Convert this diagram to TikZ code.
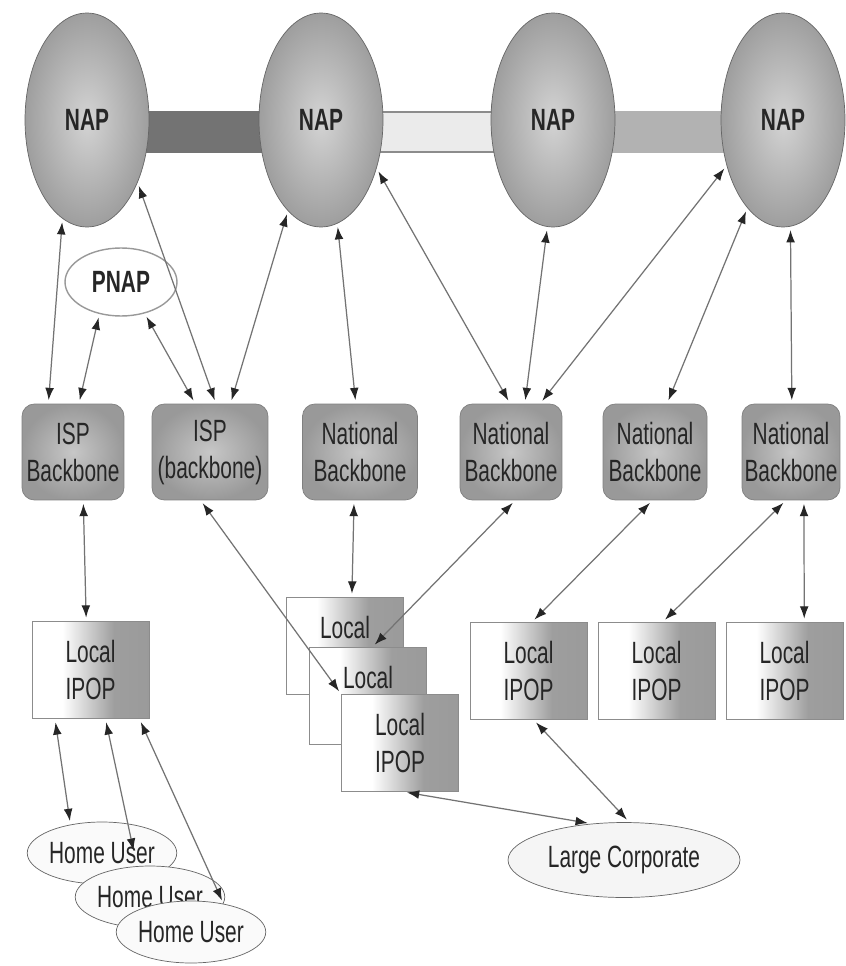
\documentclass[tikz,border=0pt]{standalone}
\usepackage{fontspec}
\setmainfont{Liberation Sans}[FakeStretch=0.68]
\usepackage{tikz}
\usetikzlibrary{shapes, arrows.meta, backgrounds, calc}

\pgfdeclarehorizontalshading{ipopshade}{100bp}{color(0bp)=(white); color(38bp)=(white); color(60bp)=(black!38); color(100bp)=(black!42)}

\begin{document}
\begin{tikzpicture}[x=0.02cm, y=-0.02cm,
		every node/.style={font=\fontsize{17.5}{21}\selectfont, text=black!85},
		nap/.style={ellipse, draw=black!60, inner color=black!17, outer color=black!38, minimum width=2.48cm, minimum height=4.28cm, inner sep=0pt, font=\fontsize{17.5}{21}\selectfont\bfseries},
		pnap/.style={ellipse, draw=black!40, line width=0.8pt, minimum width=2.24cm, minimum height=1.36cm, inner sep=0pt, font=\fontsize{17.5}{21}\selectfont\bfseries},
		backbone/.style={rectangle, rounded corners=7pt, draw=black!50, inner color=black!22, outer color=black!40, minimum height=1.92cm, inner sep=1pt, align=center},
		ipop/.style={rectangle, draw=black!45, shade, shading=ipopshade, minimum width=2.34cm, minimum height=1.94cm, align=center},
		user/.style={ellipse, draw=black!60, fill=black!2, minimum width=2.84cm, minimum height=1.24cm, inner sep=0pt},
		corp/.style={ellipse, draw=black!60, fill=black!4, minimum width=4.64cm, minimum height=1.5cm, inner sep=0pt},
		bar/.style={line width=0.84cm},
		link/.style={draw=black!55, line width=0.7pt, <->, >={Latex[length=7pt,width=5pt,color=black!85]}, shorten <=2pt, shorten >=2pt}]

	\useasboundingbox (0,0) rectangle (845,966);

	\node[nap] (nap1) at (87,120) {NAP};
	\node[nap] (nap2) at (321,120) {NAP};
	\node[nap] (nap3) at (553,120) {NAP};
	\node[nap] (nap4) at (783,120) {NAP};
	\node[pnap] (pnap) at (121,282) {PNAP};

	\begin{scope}[on background layer]
		\fill[white] (0,0) rectangle (845,966);
		\draw[bar, draw=black!55] ([yshift=-0.24cm]nap1.center) -- ([yshift=-0.24cm]nap2.center);
		\draw[double=black!8, double distance=0.78cm, line width=0.03cm, draw=black!45] ([yshift=-0.24cm]nap2.center) -- ([yshift=-0.24cm]nap3.center);
		\draw[bar, draw=black!30] ([yshift=-0.24cm]nap3.center) -- ([yshift=-0.24cm]nap4.center);
	\end{scope}

	\node[backbone, minimum width=2.04cm] (b1) at (73,452) {ISP\\Backbone};
	\node[backbone, minimum width=2.32cm] (b2) at (210,452) {ISP\\(backbone)};
	\node[backbone, minimum width=2.3cm] (b3) at (360,452) {National\\Backbone};
	\node[backbone, minimum width=2.04cm] (b4) at (511,452) {National\\Backbone};
	\node[backbone, minimum width=2.08cm] (b5) at (655,452) {National\\Backbone};
	\node[backbone, minimum width=1.96cm] (b6) at (791,452) {National\\Backbone};

	\node[ipop] (l1) at (90.5,670) {Local\\IPOP};
	\node[ipop] (ls1) at (345,646) {Local\\\phantom{IPOP}};
	\node[ipop] (ls2) at (368,696) {Local\\\phantom{IPOP}};
	\node[ipop] (ls3) at (400,743) {Local\\IPOP};
	\node[ipop] (l2) at (528.5,671) {Local\\IPOP};
	\node[ipop] (l3) at (656.5,671) {Local\\IPOP};
	\node[ipop] (l4) at (784.5,671) {Local\\IPOP};

	\node[user] (hu1) at (102,853) {Home User};
	\node[user] (hu2) at (150,897) {Home User};
	\node[user] (hu3) at (191,932) {Home User};
	\node[corp] (lc) at (624,860) {Large Corporate};

	\draw[link] (nap1.256) -- (b1.117);
	\draw[link] (pnap.236) -- (b1.83);
	\draw[link] (pnap.307) -- (b2.107);
	\draw[link] (nap1.309) -- (b2.83);
	\draw[link] (nap2.250) -- (b2.67);
	\draw[link] (nap2.279) -- (b3.95);
	\draw[link] (nap2.319) -- (b4.91);
	\draw[link] (nap3.267) -- (b4.74);
	\draw[link] (nap4.219) -- (b4.59);
	\draw[link] (nap4.248) -- (b5.76);
	\draw[link] (nap4.274) -- (b6.89);

	\draw[link] (b1.282) -- (l1.95);
	\draw[link] (b2.259) -- (ls3.north west);
	\draw[link] (b3.263) -- (ls1.82);
	\draw[link] (b4.275) -- (ls2.85);
	\draw[link] (b5.267) -- (l2.86);
	\draw[link] (b6.264) -- (l3.83);
	\draw[link] (b6.285) -- (l4.68);

	\draw[link] (l1.234) -- (hu1.138);
	\draw[link, shorten >=9pt] (l1.287) -- (hu2.113);
	\draw[link] (l1.315) -- (hu3.41);
	\draw[link] (ls3.274) -- (lc.132);
	\draw[link] (l2.276) -- (lc.82);
\end{tikzpicture}
\end{document}
